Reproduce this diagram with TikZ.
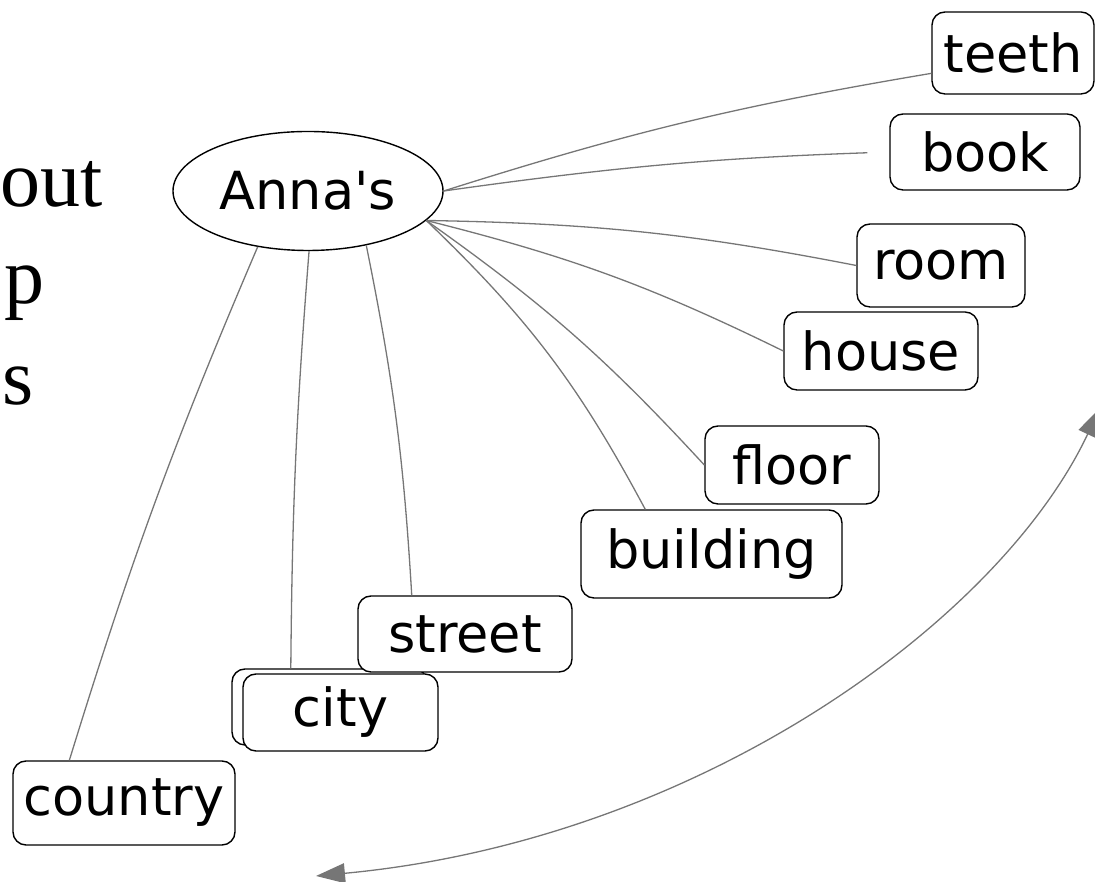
\documentclass[tikz,border=0pt]{standalone}
\usepackage{fontspec}
\setmainfont{Liberation Serif}
\newfontfamily\wordfont{DejaVu Sans}
\usetikzlibrary{arrows.meta, shapes}
\definecolor{linkgray}{RGB}{118,118,118}

\begin{document}
\begin{tikzpicture}[
    x = 1pt, y = 1pt,
    word/.style = { draw, fill = white, rounded corners = 13pt, line width = 1.4pt,
                    inner sep = 0pt, font = \wordfont\fontsize{52.5}{62}\selectfont },
    link/.style = { draw = linkgray, line width = 1.3pt }
]
    \tikzstyle{hub} = [draw, ellipse, line width = 1.4pt, inner sep = 0pt,
                       font = \wordfont\fontsize{52.5}{62}\selectfont];
    \tikzstyle{big} = [inner sep = 0pt, font = \fontsize{80}{99}\selectfont];

    \useasboundingbox (0, 0) rectangle (1095, 882);

    % cut-off title on the left
    \node[big, anchor = base east] (title1) at (103, 675) {out};
    \node[big, anchor = base east] (title2) at (45, 578) {p};
    \node[big, anchor = base east] (title3) at (34, 477) {s};

    \node[hub, minimum width = 270pt, minimum height = 119pt] (anna) at (308, 691) {Anna's};

    \node[word, minimum width = 162pt, minimum height = 82pt] (teeth) at (1013, 829) {teeth};
    \node[word, minimum width = 190pt, minimum height = 76pt] (book) at (985, 730) {book};
    \node[word, minimum width = 168pt, minimum height = 83pt] (room) at (941, 616.5) {room};
    \node[word, minimum width = 194pt, minimum height = 78pt] (house) at (881, 531) {house};
    \node[word, minimum width = 174pt, minimum height = 78pt] (floor) at (792, 417) {floor};
    \node[word, minimum width = 261pt, minimum height = 88pt] (building) at (711.5, 328) {building};
    \node[word, minimum width = 195pt, minimum height = 76pt] (cityback) at (329.5, 175) {};
    \node[word, minimum width = 214pt, minimum height = 76pt] (street) at (465, 248) {street};
    \node[word, minimum width = 195pt, minimum height = 77pt] (city) at (340.5, 169.5) {city};
    \node[word, minimum width = 222pt, minimum height = 84pt] (country) at (124, 79) {country};

    % links out of the hub
    \draw[link] (anna.east) to[bend left = 4] (teeth.194);
    \draw[link, shorten >= 22pt] (anna.east) to[bend left = 3] (book.west);
    \draw[link] (anna.-14) to[bend left = 5] (room.west);
    \draw[link] (anna.-14) to[bend left = 6] (house.west);
    \draw[link] (anna.-14) to[bend left = 6] (floor.west);
    \draw[link] (anna.-14) to[bend left = 9] (building.146);
    \draw[link] (anna.-43) to[bend left = 4] (street.144);
    \draw[link] (anna.-89) to[bend right = 2] (cityback.135);
    \draw[link] (anna.-132) to[bend right = 3] (country.142);

    % long double arrow
    \coordinate (arrowtop) at (1100, 474);
    \coordinate (arrowbot) at (316, 6);
    \draw[link, {Triangle[length = 29pt, width = 20pt]}-{Triangle[length = 29pt, width = 20pt]}]
        (arrowtop) .. controls (1000, 262) and (700, 42) .. (arrowbot);
\end{tikzpicture}
\end{document}
